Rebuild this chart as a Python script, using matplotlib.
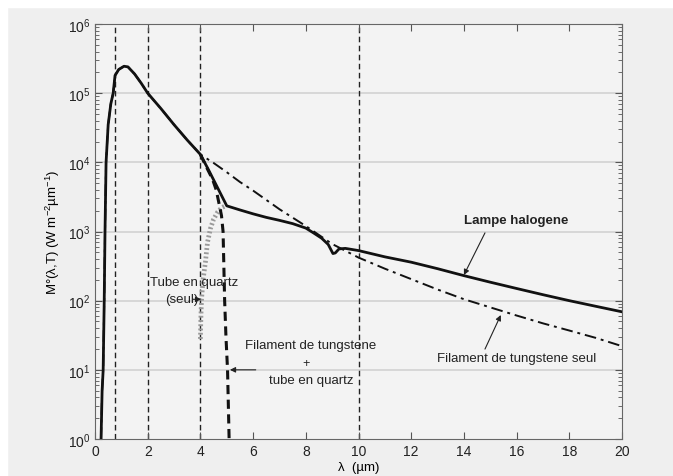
import numpy as np
import matplotlib
matplotlib.use('Agg')
import matplotlib.pyplot as plt
from matplotlib.patches import Rectangle
from matplotlib.ticker import LogLocator, FixedLocator, NullFormatter

plt.rcParams['font.family'] = ['Liberation Sans', 'DejaVu Sans']
plt.rcParams['mathtext.default'] = 'regular'
plt.rcParams['font.size'] = 9

# lampe halogene (solid)
lam_halo = [0.23, 0.27, 0.31, 0.35, 0.38, 0.42, 0.5, 0.6, 0.69, 0.76, 0.9, 1.1, 1.25, 1.5, 1.75,
            2.0, 2.5, 3.0, 3.5, 4.0, 4.3, 4.6, 5.0, 5.5, 6.0, 6.5, 7.0, 7.5, 8.0, 8.3, 8.6,
            8.85, 9.03, 9.12, 9.26, 9.5, 10, 11, 12, 13, 14, 15, 16, 17, 18, 19, 20]
M_halo = [1, 5, 10, 100, 1000, 1e4, 3.5e4, 7e4, 1e5, 1.8e5, 2.2e5, 2.45e5, 2.4e5, 1.9e5, 1.4e5,
          1.0e5, 6e4, 3.5e4, 2.1e4, 1.3e4, 7.9e3, 4.7e3, 2.35e3, 2.05e3, 1.8e3, 1.6e3, 1.45e3, 1.3e3,
          1.12e3, 950, 800, 650, 480, 490, 560, 570, 530, 430, 360, 290, 230, 185, 150, 122, 100, 83, 69]

# filament de tungstene seul (dash-dot)
lam_fil = [0.23, 0.27, 0.31, 0.35, 0.38, 0.42, 0.5, 0.6, 0.69, 0.76, 0.9, 1.1, 1.25, 1.5, 1.75,
           2.0, 2.5, 3.0, 3.5, 4.0, 4.5, 5.0, 5.5, 6.0, 7.0, 8.0, 9.0, 10, 11, 12, 13, 14, 15,
           16, 17, 18, 19, 20]
M_fil = [1, 5, 10, 100, 1000, 1e4, 3.5e4, 7e4, 1e5, 1.8e5, 2.2e5, 2.45e5, 2.4e5, 1.9e5, 1.4e5,
         1.0e5, 6e4, 3.5e4, 2.1e4, 1.3e4, 9.8e3, 7.2e3, 5.2e3, 3.9e3, 2.1e3, 1.2e3, 660, 420,
         290, 205, 145, 105, 80, 61, 47, 37, 29, 22]

# filament + tube en quartz (thick dashed)
lam_fq = [4.0, 4.2, 4.46, 4.6, 4.73, 4.8, 4.86, 4.92, 4.97, 5.03, 5.09]
M_fq = [1.3e4, 9e3, 5.7e3, 4e3, 2.3e3, 1.7e3, 1e3, 100, 30, 10, 1]

# tube en quartz seul (grey dotted)
lam_q = [4.0, 4.02, 4.04, 4.1, 4.19, 4.27, 4.38, 4.5, 4.65, 4.8, 4.95]
M_q = [28, 60, 100, 200, 360, 700, 1100, 1500, 1900, 2200, 2350]

vlines_x = [0.75, 2, 4, 10]

fig = plt.figure(figsize=(6.73, 4.77), dpi=100, facecolor='#efefef')
fig.patches.append(Rectangle((0, 1 - 8 / 477), 1, 8 / 477, transform=fig.transFigure,
                             color='white', zorder=-1))
fig.patches.append(Rectangle((0, 0), 7 / 673, 1, transform=fig.transFigure,
                             color='white', zorder=-1))
ax = fig.add_axes([95 / 673, 37 / 477, 527 / 673, 415 / 477])
ax.set_facecolor('#f3f3f3')
ax.set_yscale('log')
ax.set_xlim(0, 20)
ax.set_ylim(1, 1e6)

for y in [1e1, 1e2, 1e3, 1e4, 1e5]:
    ax.axhline(y, color='#d2d2d2', lw=1.2, zorder=0)
for x in vlines_x:
    ax.axvline(x, color='#222222', lw=1.0, ls=(0, (4, 2.5)), zorder=1)

ax.plot(lam_q, M_q, color='#9a9a9a', lw=3.4, ls=(0, (0.4, 0.5)), zorder=2)
ax.plot(lam_fil, M_fil, color='#111111', lw=1.4, ls=(0, (6, 2.5, 1.5, 2.5)), zorder=3)
ax.plot(lam_fq, M_fq, color='#111111', lw=2.2, ls=(0, (3, 1.8)), zorder=3)
ax.plot(lam_halo, M_halo, color='#111111', lw=2.0, zorder=4)

ax.xaxis.set_major_locator(FixedLocator(np.arange(0, 21, 2)))
ax.yaxis.set_major_locator(FixedLocator([1, 10, 100, 1e3, 1e4, 1e5, 1e6]))
ax.yaxis.set_minor_locator(LogLocator(base=10, subs=np.arange(2, 10), numticks=20))
ax.yaxis.set_minor_formatter(NullFormatter())
ax.tick_params(which='both', direction='in', top=True, right=True, colors='#555555',
               labelcolor='#222222', labelsize=10)
ax.tick_params(which='major', length=5)
ax.tick_params(which='minor', length=3)
for s in ax.spines.values():
    s.set_color('#666666')

ax.set_xlabel('λ  (µm)', fontsize=9.5, labelpad=2)
ax.set_ylabel('M°(λ,T) (W m$^{-2}$µm$^{-1}$)', fontsize=9.5, labelpad=4)

arw = dict(arrowstyle='-|>', color='#222222', lw=0.8, mutation_scale=8, shrinkA=0, shrinkB=0)

ax.text(16.0, 10 ** 3.17, 'Lampe halogene', ha='center', va='center', fontsize=9.5,
        fontweight='bold', color='#222222')
ax.annotate('', xy=(14.0, 235), xytext=(14.8, 10 ** 2.98), arrowprops=arw)

ax.text(16.0, 10 ** 1.17, 'Filament de tungstene seul', ha='center', va='center',
        fontsize=9.5, color='#222222')
ax.annotate('', xy=(15.4, 62), xytext=(14.8, 10 ** 1.3), arrowprops=arw)

ax.text(3.77, 10 ** 2.27, 'Tube en quartz', ha='center', va='center', fontsize=9.5,
        color='#222222')
ax.text(3.3, 10 ** 2.02, '(seul)', ha='center', va='center', fontsize=9.5, color='#222222')
ax.annotate('', xy=(4.03, 10 ** 2.02), xytext=(3.72, 10 ** 2.02), arrowprops=arw)

ax.text(8.2, 10 ** 1.36, 'Filament de tungstene', ha='center', va='center', fontsize=9.5,
        color='#222222')
ax.text(8.0, 10 ** 1.1, '+', ha='center', va='center', fontsize=9, color='#222222')
ax.text(8.2, 10 ** 0.85, 'tube en quartz', ha='center', va='center', fontsize=9.5,
        color='#222222')
ax.annotate('', xy=(5.12, 10 ** 1.0), xytext=(6.1, 10 ** 1.0), arrowprops=arw)

fig.savefig('out.png', dpi=100, facecolor=fig.get_facecolor())
